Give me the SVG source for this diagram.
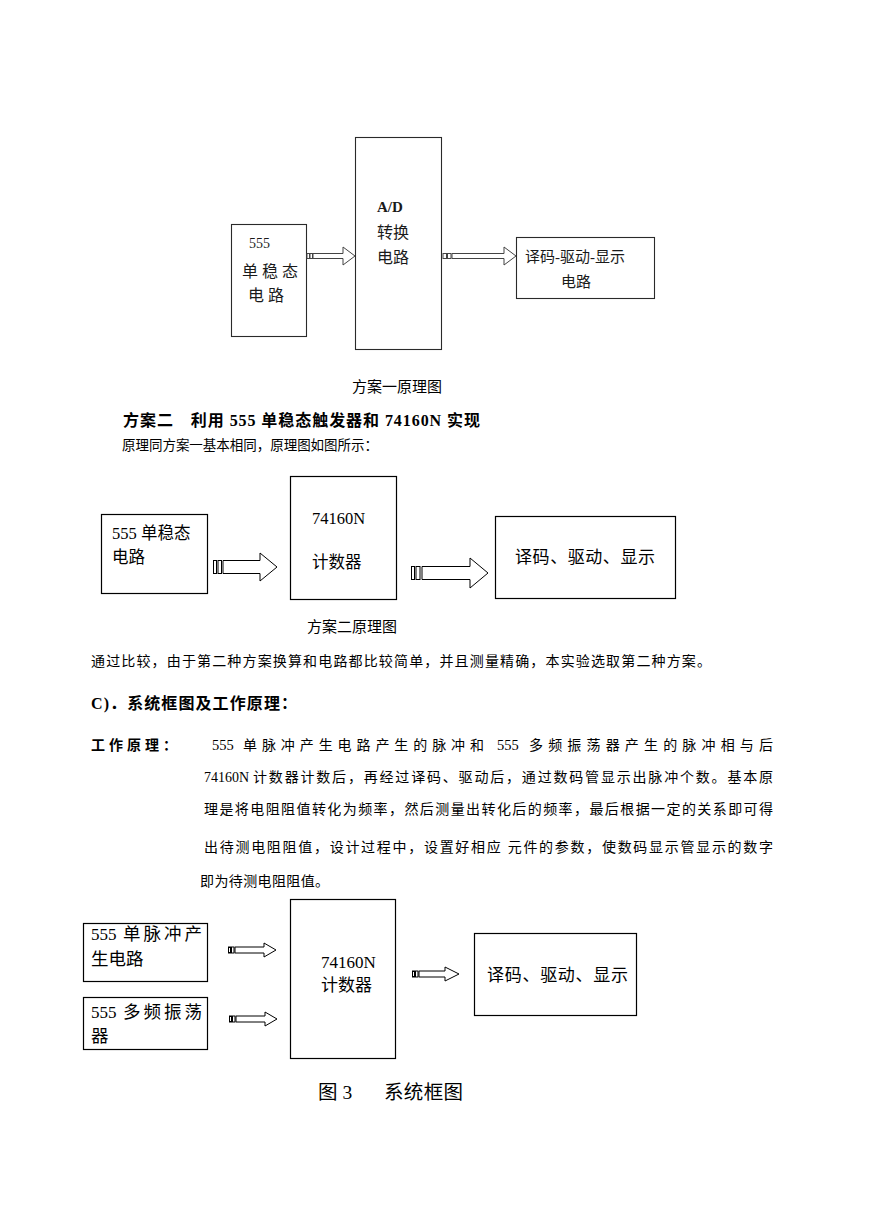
<svg xmlns="http://www.w3.org/2000/svg" width="869" height="1228" viewBox="0 0 869 1228">
<style>
.bg{fill:#ffffff}
.box{fill:#ffffff;stroke:#000000;stroke-width:1.2}
.box1{fill:#ffffff;stroke:#2a2a2a;stroke-width:1.1}
.arr{fill:#ffffff;stroke:#000000;stroke-width:1}
.arr1{fill:#ffffff;stroke:#444444;stroke-width:1}
.stripe{fill:#ffffff;stroke:#000000;stroke-width:1}
.stripe1{fill:#ffffff;stroke:#444444;stroke-width:1}
.t{font-family:"Liberation Serif","Noto Sans CJK SC",serif;fill:#000000}
.t1{font-family:"Liberation Serif","Noto Sans CJK SC",serif;fill:#1a1a1a}
.b{font-weight:bold}
</style>
<rect class="bg" x="0" y="0" width="869" height="1228"/>

<!-- Diagram 1 -->
<g id="d1-555">
<rect class="box1" x="231.5" y="224.5" width="75" height="112"/>
<text class="t1" x="249" y="248" font-size="14" fill="#333">555</text>
<text class="t1" x="242" y="277" font-size="16">单 稳 态</text>
<text class="t1" x="248" y="301" font-size="16">电 路</text>
</g>
<g id="d1-ad">
<rect class="box1" x="355.5" y="137.5" width="86" height="212"/>
<text class="t1 b" x="377" y="212" font-size="15">A/D</text>
<text class="t1" x="377" y="238" font-size="16">转换</text>
<text class="t1" x="377" y="263" font-size="16">电路</text>
</g>
<g id="d1-disp">
<rect class="box1" x="516.5" y="237.5" width="138" height="61"/>
<text class="t1" x="525" y="262" font-size="15">译码-驱动-显示</text>
<text class="t1" x="561" y="287" font-size="15">电路</text>
</g>

<!-- Diagram 2 -->
<g id="d2-555">
<rect class="box" x="101.5" y="514.5" width="106" height="79"/>
<text class="t" x="112" y="539" font-size="16.5">555 单稳态</text>
<text class="t" x="112" y="563" font-size="16.5">电路</text>
</g>
<g id="d2-cnt">
<rect class="box" x="290.5" y="476.5" width="106" height="123"/>
<text class="t" x="312" y="524" font-size="16.5">74160N</text>
<text class="t" x="312" y="568" font-size="16.5">计数器</text>
</g>
<g id="d2-disp">
<rect class="box" x="495.5" y="516.5" width="180" height="82"/>
<text class="t" x="515" y="563" font-size="17" textLength="140" lengthAdjust="spacing">译码、驱动、显示</text>
</g>

<!-- Diagram 3 -->
<g id="d3-pulse">
<rect class="box" x="83.5" y="923.5" width="124" height="58"/>
<text class="t" x="91" y="940" font-size="17">555</text>
<text class="t" x="123" y="940" font-size="17.5" textLength="79" lengthAdjust="spacing">单脉冲产</text>
<text class="t" x="91" y="965" font-size="17.5">生电路</text>
</g>
<g id="d3-osc">
<rect class="box" x="83.5" y="997.5" width="124" height="52"/>
<text class="t" x="91" y="1018" font-size="17">555</text>
<text class="t" x="123" y="1018" font-size="17.5" textLength="79" lengthAdjust="spacing">多频振荡</text>
<text class="t" x="91" y="1042" font-size="17.5">器</text>
</g>
<g id="d3-cnt">
<rect class="box" x="290.5" y="899.5" width="105" height="159"/>
<text class="t" x="321" y="968" font-size="17">74160N</text>
<text class="t" x="321" y="991" font-size="17">计数器</text>
</g>
<g id="d3-disp">
<rect class="box" x="474.5" y="933.5" width="162" height="82"/>
<text class="t" x="487" y="981" font-size="17" textLength="141" lengthAdjust="spacing">译码、驱动、显示</text>
</g>

<!-- Connectors -->
<g id="connectors">
<rect class="stripe1" x="307" y="253.5" width="2.5" height="5"/>
<rect class="stripe1" x="310" y="253.5" width="2.5" height="5"/>
<path class="arr1" d="M313,253.5 L343,253.5 L343,247 L355,256 L343,265 L343,258.5 L313,258.5 Z"/>
<rect class="stripe1" x="443" y="253.5" width="3.5" height="5"/>
<rect class="stripe1" x="447.5" y="253.5" width="3.5" height="5"/>
<path class="arr1" d="M452,253.5 L504,253.5 L504,247 L516,256 L504,265 L504,258.5 L452,258.5 Z"/>

<rect class="stripe" x="213.5" y="560.5" width="3" height="13"/>
<rect class="stripe" x="218" y="560.5" width="3.5" height="13"/>
<path class="arr" d="M223,560.5 L260,560.5 L260,553 L277,567 L260,581 L260,573.5 L223,573.5 Z"/>
<rect class="stripe" x="411.5" y="566.5" width="3" height="13"/>
<rect class="stripe" x="416" y="566.5" width="4" height="13"/>
<path class="arr" d="M422,566.5 L470,566.5 L470,558 L488,573 L470,588 L470,579.5 L422,579.5 Z"/>

<rect class="stripe" x="228.5" y="947" width="2" height="6"/>
<rect class="stripe" x="231.5" y="947" width="2.5" height="6"/>
<path class="arr" d="M235,947 L264,947 L264,943 L276,950 L264,957 L264,953 L235,953 Z"/>
<rect class="stripe" x="229.5" y="1016" width="2" height="6"/>
<rect class="stripe" x="232.5" y="1016" width="2.5" height="6"/>
<path class="arr" d="M236,1016 L265,1016 L265,1012 L277,1019 L265,1026 L265,1022 L236,1022 Z"/>
<rect class="stripe" x="412.5" y="971" width="2" height="6"/>
<rect class="stripe" x="415.5" y="971" width="2.5" height="6"/>
<path class="arr" d="M419,971 L445,971 L445,967 L459,974 L445,981 L445,977 L419,977 Z"/>
</g>

<!-- Captions and body text -->
<text class="t" x="352" y="392" font-size="15" textLength="90" lengthAdjust="spacing">方案一原理图</text>
<text class="t b" x="123" y="426" font-size="16" textLength="357" lengthAdjust="spacing">方案二　利用 555 单稳态触发器和 74160N 实现</text>
<text class="t" x="122" y="450" font-size="13.5" textLength="256" lengthAdjust="spacing">原理同方案一基本相同，原理图如图所示：</text>
<text class="t" x="307" y="632" font-size="15" textLength="90" lengthAdjust="spacing">方案二原理图</text>
<text class="t" x="91" y="666" font-size="14" textLength="620" lengthAdjust="spacing">通过比较，由于第二种方案换算和电路都比较简单，并且测量精确，本实验选取第二种方案。</text>
<text class="t b" x="91" y="709" font-size="16" textLength="206" lengthAdjust="spacing">C)．系统框图及工作原理：</text>
<text class="t b" x="91" y="750" font-size="14" textLength="86" lengthAdjust="spacing">工作原理：</text>
<text class="t" x="212" y="750" font-size="14.5">555</text>
<text class="t" x="243" y="750" font-size="14" textLength="241" lengthAdjust="spacing">单脉冲产生电路产生的脉冲和</text>
<text class="t" x="497" y="750" font-size="14.5">555</text>
<text class="t" x="529" y="750" font-size="14" textLength="244" lengthAdjust="spacing">多频振荡器产生的脉冲相与后</text>
<text class="t" x="204" y="782" font-size="14">74160N</text>
<text class="t" x="253" y="782" font-size="14" textLength="520" lengthAdjust="spacing">计数器计数后，再经过译码、驱动后，通过数码管显示出脉冲个数。基本原</text>
<text class="t" x="204" y="814" font-size="14" textLength="569" lengthAdjust="spacing">理是将电阻阻值转化为频率，然后测量出转化后的频率，最后根据一定的关系即可得</text>
<text class="t" x="204" y="852" font-size="14" textLength="569" lengthAdjust="spacing">出待测电阻阻值，设计过程中，设置好相应 元件的参数，使数码显示管显示的数字</text>
<text class="t" x="200" y="886" font-size="14" textLength="129" lengthAdjust="spacing">即为待测电阻阻值。</text>
<text class="t" x="318" y="1099" font-size="19.5">图 3</text>
<text class="t" x="384" y="1099" font-size="19.5" textLength="79" lengthAdjust="spacing">系统框图</text>
</svg>
